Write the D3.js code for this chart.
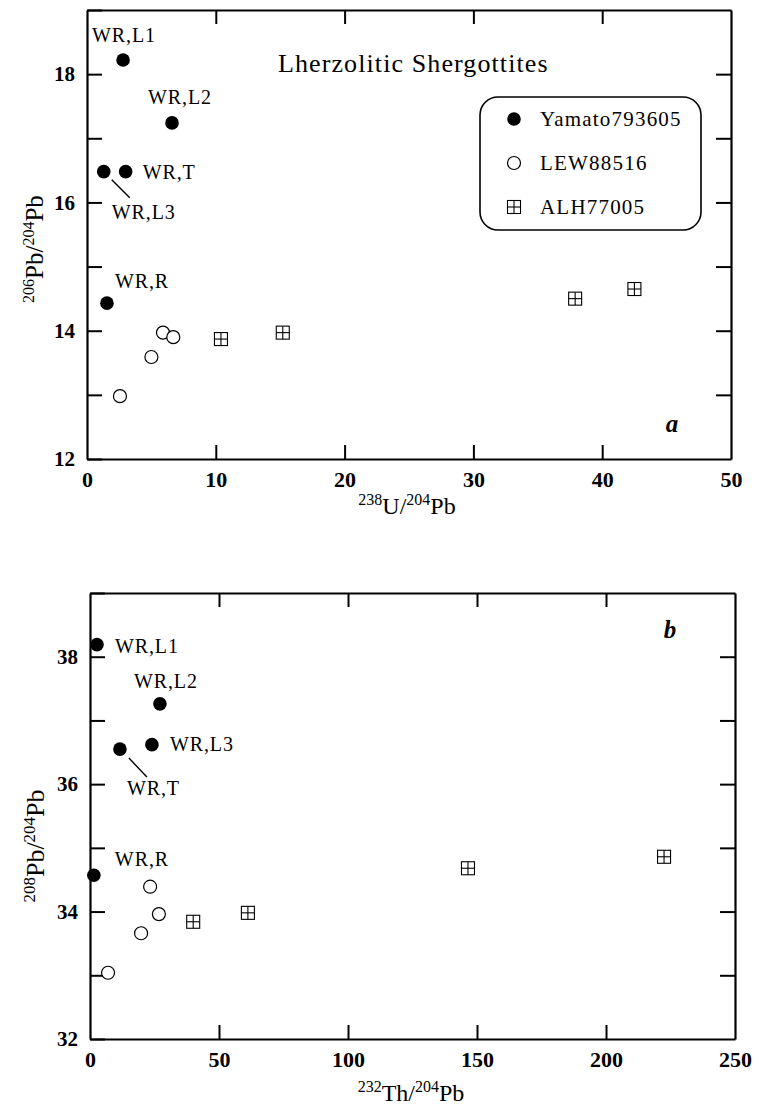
<!DOCTYPE html>
<html>
<head>
<meta charset="utf-8">
<script src="https://cdn.jsdelivr.net/npm/d3@7"></script>
<style>
  html, body { margin: 0; padding: 0; background: #fff; }
  svg { display: block; }
  text { font-family: "Liberation Serif", "Times New Roman", serif; fill: #000; }
</style>
</head>
<body>
<div id="chart"></div>
<script>
// Pb isotope data for lherzolitic shergottites.
// Yamato 793605 whole-rock fractions (same order in both panels).
const yamatoLabels = ["WR,L1", "WR,L2", "WR,L3", "WR,T", "WR,R"];
const yamatoU238  = [2.8, 6.6, 1.3, 3.0, 1.55];
const yamatoPb206 = [18.22, 17.24, 16.48, 16.48, 14.43];
const yamatoTh232 = [2.7, 27.1, 24.0, 11.6, 1.5];
const yamatoPb208 = [38.19, 37.26, 36.62, 36.55, 34.57];

// LEW 88516
const lewU238  = [5.9, 6.7, 5.0, 2.56];
const lewPb206 = [13.97, 13.90, 13.59, 12.98];
const lewTh232 = [23.3, 26.7, 19.8, 7.0];
const lewPb208 = [34.39, 33.96, 33.66, 33.04];

// ALH 77005
const alhU238  = [10.4, 15.2, 37.9, 42.5];
const alhPb206 = [13.87, 13.97, 14.50, 14.65];
const alhTh232 = [40, 61.2, 146.5, 222.5];
const alhPb208 = [33.84, 33.98, 34.68, 34.86];

// Axis ranges and tick values
const xTicksA = [0, 10, 20, 30, 40, 50];
const yTicksA = [12, 13, 14, 15, 16, 17, 18, 19];
const xTicksB = [0, 50, 100, 150, 200, 250];
const yTicksB = [32, 33, 34, 35, 36, 37, 38, 39];

const legendNames = ["Yamato793605", "LEW88516", "ALH77005"];

const W = 759, H = 1106;
const svg = d3.select("#chart").append("svg")
  .attr("width", W).attr("height", H);

const SERIF = '"Liberation Serif", "Times New Roman", serif';

// --- marker painters -------------------------------------------------------
function filledDot(g, x, y) {
  g.append("circle").attr("cx", x).attr("cy", y).attr("r", 6.8).attr("fill", "#000");
}
function openDot(g, x, y) {
  g.append("circle").attr("cx", x).attr("cy", y).attr("r", 6.5)
    .attr("fill", "#fff").attr("stroke", "#000").attr("stroke-width", 1.2);
}
function crossSquare(g, x, y) {
  const s = 13, h = s / 2;
  g.append("rect").attr("x", x - h).attr("y", y - h).attr("width", s).attr("height", s)
    .attr("fill", "#fff").attr("stroke", "#000").attr("stroke-width", 1.1);
  g.append("line").attr("x1", x).attr("x2", x).attr("y1", y - h).attr("y2", y + h)
    .attr("stroke", "#000").attr("stroke-width", 1.1);
  g.append("line").attr("x1", x - h).attr("x2", x + h).attr("y1", y).attr("y2", y)
    .attr("stroke", "#000").attr("stroke-width", 1.1);
}

// --- frame with inward ticks on all four sides -----------------------------
function drawFrame(p) {
  const { x, y, xTicks, yTicks } = p;
  const [x0, x1] = x.range();
  const [y0, y1] = y.range(); // y0 bottom, y1 top

  const styleAxis = g => {
    g.select(".domain").attr("stroke", "#000").attr("stroke-width", 2.2);
    g.selectAll(".tick line").attr("stroke", "#000").attr("stroke-width", 2);
  };

  // left
  svg.append("g").attr("transform", `translate(${x0},0)`)
    .call(d3.axisLeft(y).tickValues(yTicks).tickSize(-15).tickSizeOuter(0).tickPadding(12)
      .tickFormat(d => (d % 2 === 0 && d !== yTicks[yTicks.length - 1]) ? d : ""))
    .call(styleAxis)
    .call(g => g.selectAll(".tick text")
      .attr("font-family", SERIF).attr("font-size", 21).attr("font-weight", "bold")
      .attr("fill", "#000"));

  // right
  svg.append("g").attr("transform", `translate(${x1},0)`)
    .call(d3.axisRight(y).tickValues(yTicks.slice(1, -1)).tickSize(-15).tickSizeOuter(0)
      .tickFormat(""))
    .call(styleAxis);

  // bottom
  svg.append("g").attr("transform", `translate(0,${y0})`)
    .call(d3.axisBottom(x).tickValues(xTicks).tickSize(-14).tickSizeOuter(0).tickPadding(12))
    .call(styleAxis)
    .call(g => g.selectAll(".tick text")
      .attr("font-family", SERIF).attr("font-size", 22).attr("font-weight", "bold")
      .attr("fill", "#000"));

  // top
  svg.append("g").attr("transform", `translate(0,${y1})`)
    .call(d3.axisTop(x).tickValues(xTicks.slice(1, -1)).tickSize(-14).tickSizeOuter(0)
      .tickFormat(""))
    .call(styleAxis);

  // hide tick marks that sit on the corners
  svg.selectAll(".tick").filter(d => d === xTicks[0] || d === xTicks[xTicks.length - 1])
    .select("line").attr("stroke-width", 0);
}

// ratio label with superscript mass numbers, e.g. 238U/204Pb
function ratioLabel(sel, m1, el1, m2, el2, big, small) {
  sel.append("tspan").attr("font-size", small).attr("dy", -9).text(m1);
  sel.append("tspan").attr("font-size", big).attr("dy", 9).text(el1 + "/");
  sel.append("tspan").attr("font-size", small).attr("dy", -9).text(m2);
  sel.append("tspan").attr("font-size", big).attr("dy", 9).text(el2);
}

function drawPoints(p, yx, yy, lx, ly, ax, ay, labelOffsets, leader) {
  const g = svg.append("g");
  const { x, y } = p;
  ax.forEach((v, i) => crossSquare(g, x(v), y(ay[i])));
  lx.forEach((v, i) => openDot(g, x(v), y(ly[i])));
  yx.forEach((v, i) => filledDot(g, x(v), y(yy[i])));

  yamatoLabels.forEach((name, i) => {
    const px = x(yx[i]), py = y(yy[i]);
    const [dx, dy] = labelOffsets[i];
    g.append("text").attr("x", px + dx).attr("y", py + dy)
      .attr("font-size", 20).attr("letter-spacing", 0.9).text(name);
  });
  // leader line for the crowded pair
  const li = leader.index;
  const lpx = x(yx[li]), lpy = y(yy[li]);
  g.append("line")
    .attr("x1", lpx + leader.from[0]).attr("y1", lpy + leader.from[1])
    .attr("x2", lpx + leader.to[0]).attr("y2", lpy + leader.to[1])
    .attr("stroke", "#000").attr("stroke-width", 1.4);
}

// ================= Panel a : 206Pb/204Pb vs 238U/204Pb =====================
const pA = {
  x: d3.scaleLinear().domain([0, 50]).range([87, 731]),
  y: d3.scaleLinear().domain([12, 19]).range([459, 10]),
  xTicks: xTicksA, yTicks: yTicksA
};
drawFrame(pA);
drawPoints(pA, yamatoU238, yamatoPb206, lewU238, lewPb206, alhU238, alhPb206,
  [[-31, -18], [-24, -19], [8, 47], [17, 7], [8, -15]],
  { index: 2, from: [8, 8], to: [26, 26] });

svg.append("text").attr("x", 278).attr("y", 72)
  .attr("font-size", 26).attr("letter-spacing", 1.1).text("Lherzolitic Shergottites");

svg.append("text").attr("x", 672).attr("y", 432).attr("text-anchor", "middle")
  .attr("font-size", 25).attr("font-style", "italic").attr("font-weight", "bold").text("a");

// legend
const leg = svg.append("g");
leg.append("rect").attr("x", 480).attr("y", 97).attr("width", 221).attr("height", 133)
  .attr("rx", 18).attr("ry", 18).attr("fill", "#fff").attr("stroke", "#000").attr("stroke-width", 1.6);
const legPainters = [filledDot, openDot, crossSquare];
legendNames.forEach((name, i) => {
  const cy = 119 + i * 44;
  legPainters[i](leg, 514, cy);
  leg.append("text").attr("x", 540).attr("y", cy + 6.5)
    .attr("font-size", 21).attr("letter-spacing", 1.2).text(name);
});

// axis titles
svg.append("text").attr("x", 407).attr("y", 514).attr("text-anchor", "middle")
  .call(t => ratioLabel(t, "238", "U", "204", "Pb", 24, 16));
svg.append("text").attr("transform", "translate(43,249) rotate(-90)").attr("text-anchor", "middle")
  .call(t => ratioLabel(t, "206", "Pb", "204", "Pb", 25, 16));

// ================= Panel b : 208Pb/204Pb vs 232Th/204Pb ====================
const pB = {
  x: d3.scaleLinear().domain([0, 250]).range([90, 735]),
  y: d3.scaleLinear().domain([32, 39]).range([1039, 593]),
  xTicks: xTicksB, yTicks: yTicksB
};
drawFrame(pB);
drawPoints(pB, yamatoTh232, yamatoPb208, lewTh232, lewPb208, alhTh232, alhPb208,
  [[18, 8], [-26, -16], [18, 6], [7, 46], [21, -9]],
  { index: 3, from: [9, 9], to: [27, 28] });

svg.append("text").attr("x", 670).attr("y", 638).attr("text-anchor", "middle")
  .attr("font-size", 25).attr("font-style", "italic").attr("font-weight", "bold").text("b");

svg.append("text").attr("x", 411).attr("y", 1101).attr("text-anchor", "middle")
  .call(t => ratioLabel(t, "232", "Th", "204", "Pb", 24, 16));
svg.append("text").attr("transform", "translate(44,846) rotate(-90)").attr("text-anchor", "middle")
  .call(t => ratioLabel(t, "208", "Pb", "204", "Pb", 26, 17));
</script>
</body>
</html>
